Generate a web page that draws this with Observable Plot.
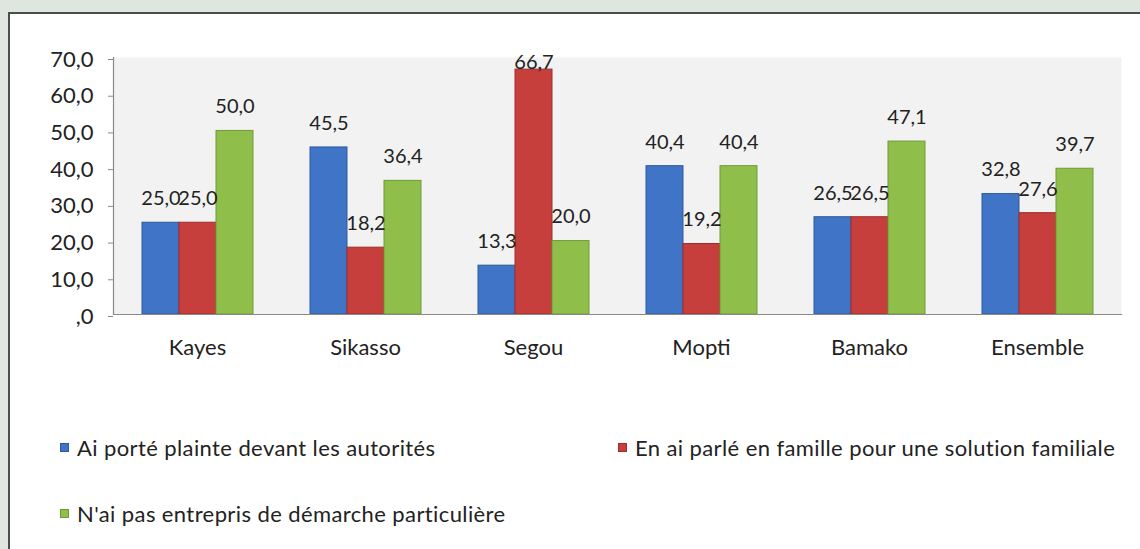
<!DOCTYPE html>
<html>
<head>
<meta charset="utf-8">
<script src="https://cdn.jsdelivr.net/npm/d3@7"></script>
<script src="https://cdn.jsdelivr.net/npm/@observablehq/plot@0.6"></script>
<style>
  html, body { margin: 0; padding: 0; }
  body { width: 1140px; height: 549px; background: #dfe5df; position: relative; overflow: hidden; font-family: Lato, "Open Sans", sans-serif; }
  #panel { position: absolute; left: 8px; top: 12px; right: 0; bottom: 0; background: #ffffff; border-top: 2px solid #4a4d4a; border-left: 2px solid #4a4d4a; }
  #chart { position: absolute; left: 0; top: 0; }
  .leg { position: absolute; font-size: 22px; letter-spacing: 0.4px; color: #222; white-space: nowrap; line-height: 22px; }
  .leg .sw { position: absolute; width: 9px; height: 9px; left: 0; top: 6px; }
  .leg .tx { position: absolute; left: 17px; top: 0; }
</style>
</head>
<body>
<div id="panel"></div>
<div id="chart"></div>
<div id="legend"></div>
<script>
const categories = ["Kayes", "Sikasso", "Segou", "Mopti", "Bamako", "Ensemble"];
const seriesNames = [
  "Ai porté plainte devant les autorités",
  "En ai parlé en famille pour une solution familiale",
  "N'ai pas entrepris de démarche particulière"
];
const plainte = [25.0, 45.5, 13.3, 40.4, 26.5, 32.8];
const famille = [25.0, 18.2, 66.7, 19.2, 26.5, 27.6];
const aucune  = [50.0, 36.4, 20.0, 40.4, 47.1, 39.7];
const yTicks = [0, 10, 20, 30, 40, 50, 60, 70];
const colors = ["#3f74c6", "#c63f3c", "#8fbf4a"];
const strokes = ["#2f5a9c", "#9c2f2d", "#6f9a36"];

const seriesValues = [plainte, famille, aucune];
const data = [];
categories.forEach((c, i) => {
  seriesNames.forEach((s, j) => {
    data.push({cat: c, series: s, value: seriesValues[j][i]});
  });
});

const fmt = v => v === 0 ? ",0" : v.toFixed(1).replace(".", ",");
const font = "Lato, 'Open Sans', sans-serif";

const chart = Plot.plot({
  width: 1140,
  height: 370,
  marginLeft: 110,
  marginRight: 17,
  marginTop: 57,
  marginBottom: 56,
  style: {background: "transparent", overflow: "visible", fontFamily: font, fontSize: "22px", color: "#222"},
  fx: {domain: categories, padding: 0, label: null},
  x: {domain: seriesNames, axis: null, paddingInner: 0, paddingOuter: 0.745},
  y: {domain: [0, 70], label: null, axis: null},
  color: {domain: seriesNames, range: colors},
  marks: [
    Plot.frame({fill: "#f2f2f2", stroke: null, facet: "super"}),
    Plot.axisY({ticks: yTicks, tickFormat: fmt, tickSize: 5, tickPadding: 15, label: null, fontSize: 22, stroke: "#8a8a8a", fill: "#222", dy: 2}),
    Plot.frame({anchor: "left", stroke: "#8a8a8a", strokeWidth: 1.2, facet: "super"}),
    Plot.barY(data, {fx: "cat", x: "series", y: "value", fill: "series", stroke: d => strokes[seriesNames.indexOf(d.series)], strokeWidth: 1}),
    Plot.frame({anchor: "bottom", stroke: "#8a8a8a", strokeWidth: 1.2, facet: "super"}),
    Plot.text(data.filter(d => d.value < 60), {fx: "cat", x: "series", y: "value", text: d => fmt(d.value), dy: -24, fontSize: 20, letterSpacing: "-0.4px", fill: "#222"}),
    Plot.text(data.filter(d => d.value >= 60), {fx: "cat", x: "series", y: "value", text: d => fmt(d.value), dy: -7, fontSize: 20, letterSpacing: "-0.4px", fill: "#222"}),
    Plot.axisFx({anchor: "bottom", tickSize: 0, tickPadding: 25, label: null, fontSize: 22, fill: "#222"})
  ]
});
document.getElementById("chart").appendChild(chart);

// legend
const legendPos = [
  {left: 60, top: 437},
  {left: 618, top: 437},
  {left: 60, top: 503}
];
const leg = d3.select("#legend");
seriesNames.forEach((s, i) => {
  const item = leg.append("div").attr("class", "leg")
    .style("left", legendPos[i].left + "px").style("top", legendPos[i].top + "px");
  item.append("div").attr("class", "sw").style("background", colors[i]).style("border", "1px solid " + strokes[i]).style("box-sizing", "border-box");
  item.append("div").attr("class", "tx").text(s);
});
</script>
</body>
</html>
